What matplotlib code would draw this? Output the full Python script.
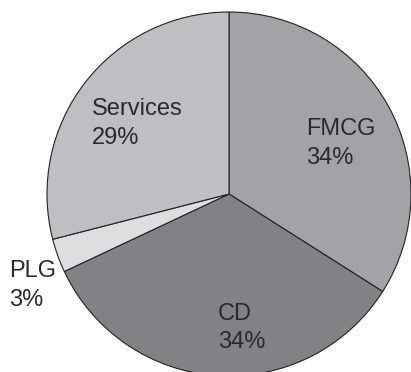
import matplotlib as mpl
mpl.use('Agg')

import matplotlib.pyplot as plt

# segment shares (percent)
names = ["FMCG", "CD", "PLG", "Services"]
shares = [34, 34, 3, 29]
colors = ["#a2a3a6", "#818286", "#dddee0", "#bebfc2"]

# label anchors in pixel units (x from left, baseline y from top)
label_x = [306, 218, 9, 92]
label_y = [135, 320, 277, 115]

W, H = 411, 372
fig = plt.figure(figsize=(W / 100, H / 100), dpi=100)
ax = fig.add_axes([0, 0, 1, 1])

ax.pie(shares, colors=colors, startangle=90, counterclock=False,
       center=(229, H - 194), radius=182, frame=True,
       wedgeprops=dict(edgecolor="#222222", linewidth=0.8))
ax.set_xlim(0, W)
ax.set_ylim(0, H)
ax.axis("off")

for n, s, x, y in zip(names, shares, label_x, label_y):
    ax.text(x, H - y, n, fontsize=17, family="Liberation Sans",
            color="#2a2a2a", ha="left", va="baseline")
    ax.text(x, H - y - 28.5, f"{s}%", fontsize=17, family="Liberation Sans",
            color="#2a2a2a", ha="left", va="baseline")

plt.savefig("out.png", dpi=100)
